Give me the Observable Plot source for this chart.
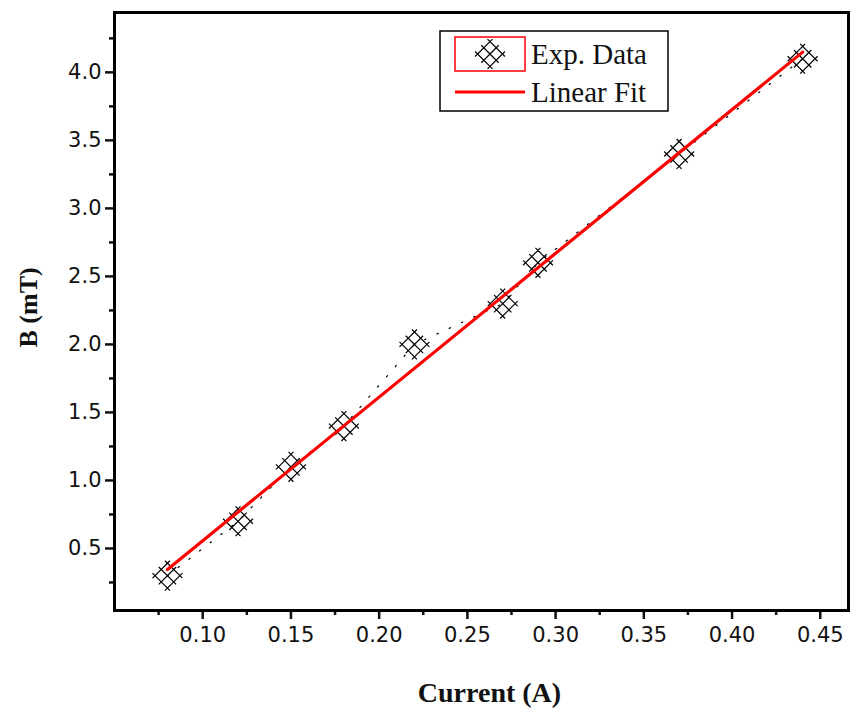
<!DOCTYPE html>
<html>
<head>
<meta charset="utf-8">
<script src="https://cdn.jsdelivr.net/npm/d3@7"></script>
<script src="https://cdn.jsdelivr.net/npm/@observablehq/plot@0.6"></script>
<style>
  html, body { margin: 0; padding: 0; background: #fff; }
  #wrap { position: relative; width: 857px; height: 715px; }
  #legend { position: absolute; left: 439px; top: 30px; }
</style>
</head>
<body>
<div id="wrap"></div>
<script>
// ---- data ----
const current = [0.08, 0.12, 0.15, 0.18, 0.22, 0.27, 0.29, 0.37, 0.44];
const bField  = [0.30, 0.70, 1.10, 1.40, 2.00, 2.30, 2.60, 3.40, 4.10];
const xMajor = [0.10, 0.15, 0.20, 0.25, 0.30, 0.35, 0.40, 0.45];
const xMinor = [0.075, 0.125, 0.175, 0.225, 0.275, 0.325, 0.375, 0.425];
const yMajor = [0.5, 1.0, 1.5, 2.0, 2.5, 3.0, 3.5, 4.0];
const yMinor = [0.25, 0.75, 1.25, 1.75, 2.25, 2.75, 3.25, 3.75, 4.25];
const xTitle = "Current (A)";
const yTitle = "B (mT)";
const legendLabels = ["Exp. Data", "Linear Fit"];

const data = current.map((x, i) => ({x, y: bField[i]}));

// lattice "crossed diamond" marker
const lattice = {
  draw(ctx, size) {
    const r = Math.sqrt(size / Math.PI);
    const h = r * 0.55, L = h + r * 0.22, q = Math.SQRT1_2;
    for (const [a, b] of [[[q, q], [q, -q]], [[q, -q], [q, q]]]) {
      for (const k of [-1, 0, 1]) {
        const cx = k * h * b[0], cy = k * h * b[1];
        ctx.moveTo(cx - L * a[0], cy - L * a[1]);
        ctx.lineTo(cx + L * a[0], cy + L * a[1]);
      }
    }
  }
};

const tickFont = "DejaVu Sans, Verdana, sans-serif";
const serif = "Liberation Serif, Times New Roman, serif";

const chart = Plot.plot({
  width: 857,
  height: 715,
  marginLeft: 114,
  marginRight: 9,
  marginTop: 12,
  marginBottom: 105,
  style: {background: "#fff", color: "#111"},
  x: {domain: [0.05, 0.466]},
  y: {domain: [0.044, 4.44]},
  marks: [
    Plot.axisX(xMajor, {tickSize: 9, tickPadding: 8, tickFormat: d3.format(".2f"), fontSize: 21, fontFamily: tickFont, strokeWidth: 2.5, label: null}),
    Plot.axisX(xMinor, {tickSize: 5, tickFormat: () => "", strokeWidth: 2.5, label: null}),
    Plot.axisY(yMajor, {tickSize: 9, tickPadding: 4, tickFormat: d3.format(".1f"), fontSize: 21, fontFamily: tickFont, strokeWidth: 2.5, label: null}),
    Plot.axisY(yMinor, {tickSize: 5, tickFormat: () => "", strokeWidth: 2.5, label: null}),
    Plot.text([xTitle], {frameAnchor: "bottom", dy: 91, fontSize: 28, fontWeight: "bold", fontFamily: serif, fill: "#111", dx: 8}),
    Plot.text([yTitle], {frameAnchor: "left", rotate: -90, dx: -86, dy: 36, fontSize: 26, fontWeight: "bold", fontFamily: serif, fill: "#111"}),
    Plot.line(data, {x: "x", y: "y", stroke: "#000", strokeWidth: 1.2, strokeDasharray: "1.5,12"}),
    Plot.dot(data, {x: "x", y: "y", symbol: lattice, r: 16, stroke: "#000", strokeWidth: 1.2, fill: "none"}),
    Plot.linearRegressionY(data, {x: "x", y: "y", stroke: "#f00", strokeWidth: 3.2, ci: 0}),
    Plot.frame({stroke: "#000", strokeWidth: 3})
  ]
});
document.getElementById("wrap").appendChild(chart);

// ---- legend ----
const lw = 230, lh = 82;
const leg = d3.create("svg").attr("id", "legend").attr("width", lw).attr("height", lh);
leg.append("rect").attr("x", 1).attr("y", 1).attr("width", lw - 2).attr("height", lh - 2)
  .attr("fill", "#fff").attr("stroke", "#000").attr("stroke-width", 1.5);
leg.append("rect").attr("x", 16).attr("y", 7).attr("width", 70).attr("height", 34)
  .attr("fill", "none").attr("stroke", "#f00").attr("stroke-width", 1.5);
leg.append("path").attr("transform", "translate(51,24)")
  .attr("d", d3.symbol(lattice, 16 * 16 * Math.PI)())
  .attr("fill", "none").attr("stroke", "#000").attr("stroke-width", 1.2);
leg.append("line").attr("x1", 16).attr("x2", 86).attr("y1", 62).attr("y2", 62)
  .attr("stroke", "#f00").attr("stroke-width", 3.2);
legendLabels.forEach((t, i) => {
  leg.append("text").attr("x", 92).attr("y", 24 + i * 38).attr("dy", "0.35em")
    .attr("font-family", serif).attr("font-size", 29).attr("fill", "#111").text(t);
});
document.getElementById("wrap").appendChild(leg.node());
</script>
</body>
</html>
